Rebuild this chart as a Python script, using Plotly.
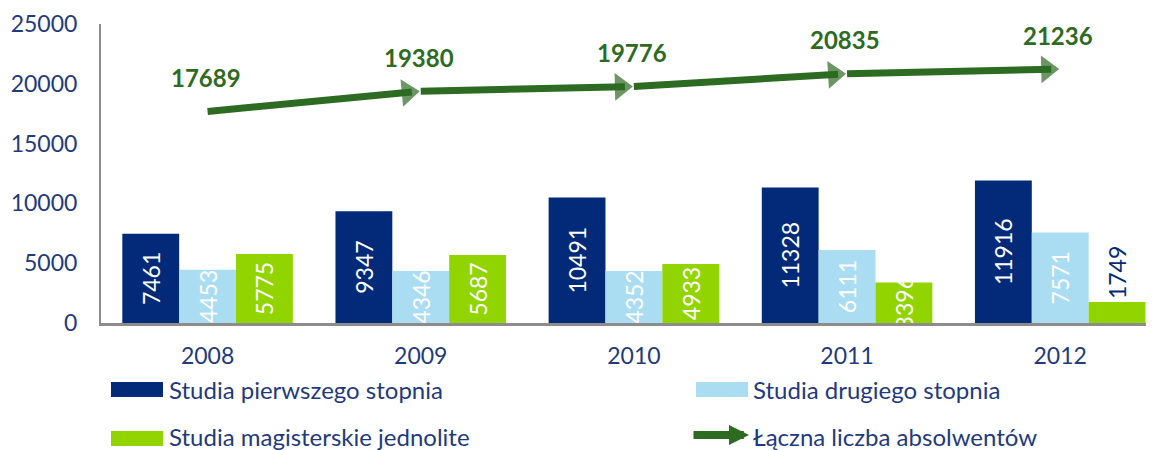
import plotly.graph_objects as go

# ---- data ----
years = ["2008", "2009", "2010", "2011", "2012"]
pierwszego = [7461, 9347, 10491, 11328, 11916]
drugiego = [4453, 4346, 4352, 6111, 7571]
magisterskie = [5775, 5687, 4933, 3396, 1749]
laczna = [17689, 19380, 19776, 20835, 21236]

names = ["Studia pierwszego stopnia", "Studia drugiego stopnia",
         "Studia magisterskie jednolite", "Łączna liczba absolwentów"]

NAVY = "#022A78"
LIGHT = "#ABDDF2"
LIME = "#92D400"
DGREEN = "#2D6B22"
TXT = "#1F3A7D"
FONT = "Lato"

fig = go.Figure()

def bar(vals, name, color, textpos, outcolor):
    fig.add_trace(go.Bar(
        x=years, y=vals, name=name, marker=dict(color=color, line=dict(width=0)),
        text=[str(v) for v in vals], texttemplate="%{text}",
        textposition=textpos, textangle=-90, constraintext="none",
        insidetextanchor="middle",
        insidetextfont=dict(family=FONT, size=23, color="white"),
        outsidetextfont=dict(family=FONT, size=23, color=outcolor),
        cliponaxis=False, showlegend=False,
    ))

bar(pierwszego, names[0], NAVY, "inside", NAVY)
bar(drugiego, names[1], LIGHT, "inside", NAVY)
bar(magisterskie, names[2], LIME,
    ["inside", "inside", "inside", "inside", "outside"], NAVY)

fig.add_trace(go.Scatter(
    x=years, y=laczna, name=names[3], mode="lines+markers",
    line=dict(color=DGREEN, width=7, backoff=9),
    marker=dict(symbol="triangle-up", angleref="previous",
                size=[0, 24, 24, 24, 24], standoff=13, color=DGREEN,
                line=dict(width=0)),
    showlegend=False, cliponaxis=False,
))

annotations = []
for i, v in enumerate(laczna):
    annotations.append(dict(
        x=i, y=v, xref="x", yref="y", text=f"<b>{v}</b>", showarrow=False,
        yshift=34, xshift=-2, font=dict(family=FONT, size=24, color=DGREEN)))

# ---- manual legend (page pixel -> paper helpers; plot area spans
#      page x 101..1154, page y 24..323) ----
def fx(px):
    return (px - 101) / 1053

def fy(py):
    return (323 - py) / 299

shapes = []
legend_items = [
    (111, 163, 382, 397, NAVY, 167, 389, names[0]),
    (696, 748, 382, 397, LIGHT, 751, 389, names[1]),
    (111, 163, 431, 446, LIME, 167, 436, names[2]),
]
for x0, x1, y0, y1, col, tx, ty, label in legend_items:
    shapes.append(dict(type="rect", xref="paper", yref="paper",
                       x0=fx(x0), x1=fx(x1), y0=fy(y1), y1=fy(y0),
                       fillcolor=col, line=dict(width=0)))
    annotations.append(dict(x=fx(tx), y=fy(ty), xref="paper", yref="paper",
                            text=label, showarrow=False, xanchor="left",
                            yanchor="middle",
                            font=dict(family=FONT, size=24, color=TXT)))

# arrow legend symbol
annotations.append(dict(x=fx(749), y=fy(435), xref="paper", yref="paper",
                        ax=-57, ay=0, axref="pixel", ayref="pixel", text="",
                        showarrow=True, arrowhead=2, arrowsize=0.5,
                        arrowwidth=8, arrowcolor=DGREEN))
annotations.append(dict(x=fx(751), y=fy(436), xref="paper", yref="paper",
                        text=names[3], showarrow=False, xanchor="left",
                        yanchor="middle",
                        font=dict(family=FONT, size=24, color=TXT)))

# page body has an 8px margin: figure is drawn at page offset (8, 8)
fig.update_layout(
    width=1146, height=442,
    margin=dict(l=93, r=0, t=16, b=127),
    paper_bgcolor="white", plot_bgcolor="white",
    barmode="group", bargap=0.2, bargroupgap=0,
    showlegend=False,
    annotations=annotations, shapes=shapes,
    font=dict(family=FONT, color=TXT),
)
fig.update_xaxes(type="category", range=[-0.5, 4.44], showline=True,
                 linecolor="#8C8C8C", linewidth=2.5, showgrid=False,
                 ticks="", tickfont=dict(family=FONT, size=23, color=TXT),
                 ticklabelstandoff=11, zeroline=False)
fig.update_yaxes(range=[0, 25000], dtick=5000, tickformat="d", showline=True,
                 linecolor="#8C8C8C", linewidth=2, showgrid=False,
                 ticks="", tickfont=dict(family=FONT, size=23, color=TXT),
                 ticklabelstandoff=17, zeroline=False)

fig.write_html("out.html")
